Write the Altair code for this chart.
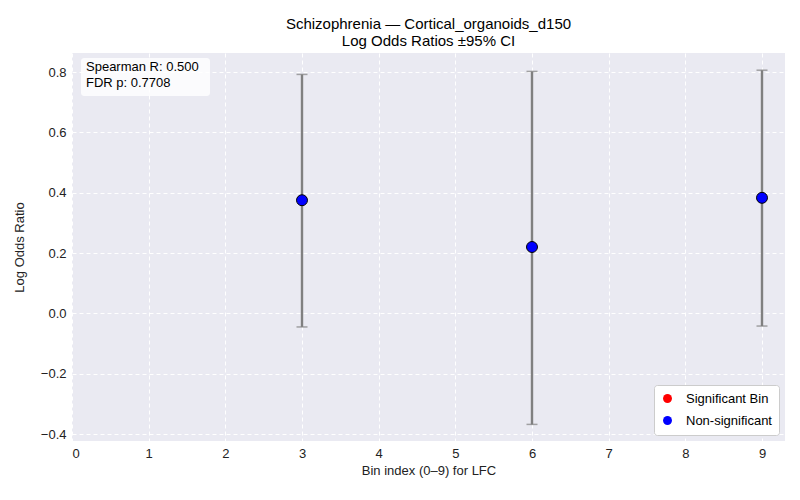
import pandas as pd
import altair as alt

bins = [3, 6, 9]
log_odds = [0.375, 0.220, 0.383]
ci_low = [-0.045, -0.368, -0.042]
ci_high = [0.792, 0.802, 0.806]
status = ["Non-significant", "Non-significant", "Non-significant"]

df = pd.DataFrame({"bin": bins, "lor": log_odds, "lo": ci_low, "hi": ci_high, "status": status})

FONT = "Liberation Sans"
xs = alt.Scale(domain=[0, 9.3], nice=False, zero=False)
ys = alt.Scale(domain=[-0.423, 0.863], nice=False, zero=False)

base = alt.Chart(df)

bars = base.mark_rule(color="gray", strokeWidth=2.4).encode(
    x=alt.X("bin:Q", scale=xs, title="Bin index (0–9) for LFC",
            axis=alt.Axis(values=list(range(10)), format="d")),
    y=alt.Y("lo:Q", scale=ys, title="Log Odds Ratio",
            axis=alt.Axis(values=[-0.4, -0.2, 0.0, 0.2, 0.4, 0.6, 0.8], format=".1f", titlePadding=14)),
    y2="hi:Q",
)
caps_lo = base.mark_tick(color="gray", orient="horizontal", size=11, thickness=1.5).encode(
    x=alt.X("bin:Q", scale=xs), y=alt.Y("lo:Q", scale=ys))
caps_hi = base.mark_tick(color="gray", orient="horizontal", size=11, thickness=1.5).encode(
    x=alt.X("bin:Q", scale=xs), y=alt.Y("hi:Q", scale=ys))

points = base.mark_point(filled=True, size=120, stroke="black", strokeWidth=1, opacity=1).encode(
    x=alt.X("bin:Q", scale=xs),
    y=alt.Y("lor:Q", scale=ys),
    color=alt.Color("status:N",
                    scale=alt.Scale(domain=["Significant Bin", "Non-significant"], range=["red", "blue"]),
                    legend=alt.Legend(title=None, orient="bottom-right", fillColor="white",
                                      strokeColor="#cccccc", padding=7, cornerRadius=3, offset=6,
                                      labelFontSize=13, symbolSize=80, symbolStrokeWidth=0,
                                      labelFont=FONT, rowPadding=8, labelOffset=12)),
)

box = alt.Chart(pd.DataFrame({"a": [0]})).mark_rect(
    fill="white", opacity=0.8, cornerRadius=3).encode(
    x=alt.value(9), x2=alt.value(138), y=alt.value(5), y2=alt.value(43))
note = alt.Chart(pd.DataFrame({"a": [0]})).mark_text(
    align="left", baseline="top", fontSize=13, font=FONT, lineHeight=16).encode(
    x=alt.value(14), y=alt.value(8), text=alt.value(["Spearman R: 0.500", "FDR p: 0.7708"]))

chart = alt.layer(bars, caps_lo, caps_hi, points, box, note).properties(
    width=713, height=388,
    autosize=alt.AutoSizeParams(type="none"),
    padding={"left": 64, "top": 45, "right": 7, "bottom": 51},
    background="white",
    title=alt.TitleParams(["Schizophrenia — Cortical_organoids_d150", "Log Odds Ratios ±95% CI"],
                          fontSize=15, font=FONT, fontWeight="normal", anchor="middle", offset=4),
).configure_view(fill="#EAEAF2", stroke=None).configure_axis(
    grid=True, gridColor="white", gridDash=[4, 3], gridWidth=1, domain=False, ticks=False,
    labelFont=FONT, titleFont=FONT, labelFontSize=13, titleFontSize=13, titleFontWeight="normal",
    labelColor="#222", titleColor="#222", labelPadding=6,
)

chart.save("out.html", embed_options={"renderer": "svg", "actions": False})
